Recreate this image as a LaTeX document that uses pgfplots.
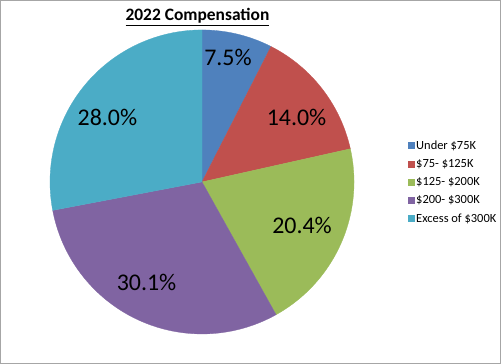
\documentclass[border=0pt]{standalone}
\usepackage{fontspec}
\setmainfont{Carlito}
\usepackage{pgfplots}
\pgfplotsset{compat=1.18}
\definecolor{cA}{HTML}{4F81BD}
\definecolor{cB}{HTML}{C0504D}
\definecolor{cC}{HTML}{9BBB59}
\definecolor{cD}{HTML}{8064A2}
\definecolor{cE}{HTML}{4BACC6}
\begin{document}
\begin{tikzpicture}
% slice values (percent)
\def\vA{7.5}\def\vB{14.0}\def\vC{20.4}\def\vD{30.1}\def\vE{28.0}
\pgfmathsetmacro\aA{90}
\pgfmathsetmacro\aB{\aA-3.6*\vA}
\pgfmathsetmacro\aC{\aB-3.6*\vB}
\pgfmathsetmacro\aD{\aC-3.6*\vC}
\pgfmathsetmacro\aE{\aD-3.6*\vD}
\pgfmathsetmacro\aF{\aE-3.6*\vE}
\begin{axis}[scale only axis,
  width=304bp, height=304bp, xmin=-1, xmax=1, ymin=-1, ymax=1,
  hide axis, clip=false,
  legend image code/.code={\fill[#1, draw=none] (0bp,-3.5bp) rectangle (7bp,3.5bp);},
  legend style={at={(axis cs:1.352,0.282)}, anchor=north west, draw=none, fill=none,
    font=\fontsize{12.5}{15}\selectfont, row sep=5.5bp, inner sep=0pt,
    nodes={inner sep=1.5bp}},
  legend cell align=left]
\fill[white] (axis cs:-1.329,-1.197) rectangle (axis cs:1.967,1.197);
\draw[color=black!35, line width=1.2bp] (axis cs:-1.325,-1.193) rectangle (axis cs:1.963,1.193);
\addplot[fill=cA, draw=cA, line width=0.3bp, domain=\aB:\aA, samples=60, forget plot] ({cos(x)},{sin(x)}) -- (axis cs:0,0) -- cycle;
\addplot[fill=cB, draw=cB, line width=0.3bp, domain=\aC:\aB, samples=60, forget plot] ({cos(x)},{sin(x)}) -- (axis cs:0,0) -- cycle;
\addplot[fill=cC, draw=cC, line width=0.3bp, domain=\aD:\aC, samples=80, forget plot] ({cos(x)},{sin(x)}) -- (axis cs:0,0) -- cycle;
\addplot[fill=cD, draw=cD, line width=0.3bp, domain=\aE:\aD, samples=100, forget plot] ({cos(x)},{sin(x)}) -- (axis cs:0,0) -- cycle;
\addplot[fill=cE, draw=cE, line width=0.3bp, domain=\aF:\aE, samples=100, forget plot] ({cos(x)},{sin(x)}) -- (axis cs:0,0) -- cycle;
\addlegendimage{fill=cA}\addlegendentry{Under \$75K}
\addlegendimage{fill=cB}\addlegendentry{\$75- \$125K}
\addlegendimage{fill=cC}\addlegendentry{\$125- \$200K}
\addlegendimage{fill=cD}\addlegendentry{\$200- \$300K}
\addlegendimage{fill=cE}\addlegendentry{Excess of \$300K}
\node[font=\fontsize{17.5}{21}\selectfont\bfseries, anchor=base] at (axis cs:-0.030,1.059) {\underline{2022 Compensation}};
\node[font=\fontsize{24}{28}\selectfont] at (axis cs:0.171,0.819) {7.5\%};
\node[font=\fontsize{24}{28}\selectfont] at (axis cs:0.622,0.424) {14.0\%};
\node[font=\fontsize{24}{28}\selectfont] at (axis cs:0.658,-0.283) {20.4\%};
\node[font=\fontsize{24}{28}\selectfont] at (axis cs:-0.365,-0.661) {30.1\%};
\node[font=\fontsize{24}{28}\selectfont] at (axis cs:-0.622,0.424) {28.0\%};
\end{axis}
\end{tikzpicture}
\end{document}
